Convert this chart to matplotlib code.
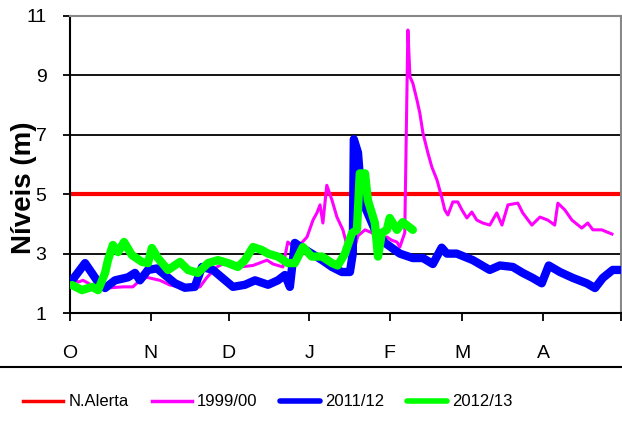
import matplotlib
matplotlib.use('Agg')
import matplotlib.pyplot as plt
from matplotlib.lines import Line2D

plt.rcParams['font.family'] = ['Liberation Sans', 'DejaVu Sans']

# eixo x em dias desde 1 de Outubro
months = ['O', 'N', 'D', 'J', 'F', 'M', 'A']
month_start = [0, 31, 61, 92, 123, 151, 182]
season_end = 212
alert_level = 5.0
y_ticks = [1, 3, 5, 7, 9, 11]

d_9900 = [0.8, 3.1, 5, 9.6, 15.4, 20.4, 24.2, 26.9, 29.6, 34.6, 38.5, 45, 50, 52.7, 56.5,
          60.4, 65.4, 70.4, 75.8, 78.1, 81.9, 83.8, 86.5, 88.5, 91.2, 93.5, 95, 96.2, 97.3,
          98.8, 100.8, 102.7, 105, 106.5, 108.5, 110.8, 113.5, 116.2, 118.5, 121.9, 123.8,
          125.8, 126.9, 128.8, 130, 130.8, 131.9, 133.5, 134.6, 135.8, 137.7, 139.2, 141.2,
          143, 144.2, 145.4, 147.3, 149.2, 150.8, 152.7, 154.6, 156.5, 158.8, 161.5, 164.2,
          166.2, 168.5, 172.3, 174.2, 177.7, 180.8, 183.8, 186.5, 187.7, 190.4, 193.1, 196.9,
          199.2, 201.2, 204.6, 206.5, 208.5]
v_9900 = [2.2, 2.04, 2.1, 1.88, 1.85, 1.88, 1.88, 2.1, 2.2, 2.1, 1.94, 1.84, 1.88, 2.2, 2.55,
          2.72, 2.55, 2.6, 2.78, 2.65, 2.55, 3.39, 3.2, 3.3, 3.56, 4.13, 4.37, 4.64, 4.03,
          5.3, 4.8, 4.23, 3.8, 3.3, 2.9, 3.6, 3.8, 3.7, 3.45, 3.56, 3.45,
          3.39, 3.22, 3.7, 10.53, 8.95, 8.74, 8.17, 7.73, 7.06, 6.39, 5.92, 5.48,
          4.9, 4.47, 4.3, 4.74, 4.74, 4.47, 4.2, 4.4, 4.13, 4.03, 3.96, 4.37,
          3.96, 4.64, 4.7, 4.37, 3.96, 4.23, 4.13, 3.96, 4.7, 4.47, 4.13, 3.86,
          4.03, 3.8, 3.8, 3.73, 3.66]

d_1112 = [0.8, 5.8, 10.8, 13.5, 17.3, 22.3, 25, 26.9, 30, 33.5, 36.5, 40.4, 44.2, 48, 50.8,
          55, 62.7, 67.3, 71.2, 76.2, 80, 82.7, 84.6, 86.5, 89.2, 93, 97, 100.8, 104.6,
          107.7, 108.8, 109.2, 110.8, 112.3, 113.5, 117.3, 121.2, 125, 126.9, 131.9, 135.8,
          139.6, 143, 145, 148.8, 155, 161.5, 165.4, 170.4, 174.2, 178, 181.5, 184.2, 188.5,
          193.5, 198.8, 202, 205, 208.8, 211.5]
v_1112 = [2.1, 2.68, 2.04, 1.84, 2.1, 2.2, 2.35, 2.1, 2.45, 2.5, 2.28, 2.0, 1.85, 1.88, 2.55,
          2.45, 1.88, 1.95, 2.1, 1.95, 2.1, 2.28, 1.88, 3.36, 3.2, 3.0, 2.78, 2.55, 2.38,
          2.38, 3.0, 6.85, 6.4, 4.7, 4.57, 3.8, 3.36, 3.12, 3.0, 2.85, 2.85,
          2.65, 3.2, 3.0, 3.0, 2.78, 2.45, 2.6, 2.55, 2.35, 2.18, 2.0, 2.6, 2.38,
          2.18, 2.0, 1.84, 2.18, 2.45, 2.45]

d_1213 = [0.8, 4.6, 8.5, 10.8, 13.5, 14.6, 16.5, 18.5, 20.8, 23.8, 27.7, 30, 31.5, 33.8, 37.7,
          42.3, 45.4, 49.2, 53.1, 56.9, 60.8, 64.6, 67.3, 70.4, 73.8, 76.2, 80, 83.8, 86.5,
          89.6, 93, 97, 100.8, 103, 105.8, 108.5, 110.4, 111.5, 113.5, 114.6, 117.3, 118.5,
          120, 121.9, 123, 125.8, 128, 131.9]
v_1213 = [1.94, 1.77, 1.88, 1.77, 2.35, 2.78, 3.29, 3.05, 3.39, 2.95, 2.72, 2.68, 3.19, 2.85, 2.45,
          2.72, 2.45, 2.35, 2.68, 2.78, 2.68, 2.55, 2.78, 3.22, 3.12, 3.0, 2.9, 2.68, 2.68,
          3.22, 2.9, 2.9, 2.68, 2.6, 3.0, 3.69, 3.8, 5.7, 5.7, 4.8, 4.03, 2.9,
          3.7, 3.8, 4.2, 3.8, 4.06, 3.8]

fig = plt.figure(figsize=(6.22, 4.21), dpi=100)
ax = fig.add_axes([70 / 622, 1 - 313 / 421, 551 / 622, 297 / 421])

ax.axhline(alert_level, color='#ff0000', lw=3, label='N.Alerta', zorder=2)
ax.plot(d_9900, v_9900, color='#ff00ff', lw=2.2, label='1999/00', zorder=3)
ax.plot(d_1112, v_1112, color='#0000ff', lw=6, label='2011/12', zorder=4,
        solid_joinstyle='round', solid_capstyle='round')
ax.plot(d_1213, v_1213, color='#00ff00', lw=6, label='2012/13', zorder=5,
        solid_joinstyle='round', solid_capstyle='round')

ax.set_xlim(0, season_end)
ax.set_ylim(1, 11)
ax.set_yticks(y_ticks)
ax.set_xticks(month_start + [season_end])
ax.set_xticklabels(months + [''])
ax.set_axisbelow(True)
ax.yaxis.grid(True, color='black', lw=1.3)

for s in ['left', 'bottom']:
    ax.spines[s].set_color('black')
    ax.spines[s].set_linewidth(1.5)
for s in ['top', 'right']:
    ax.spines[s].set_color('#888888')
    ax.spines[s].set_linewidth(1.5)

ax.tick_params(axis='y', direction='out', length=5, width=1.3, pad=12, labelsize=14)
ax.tick_params(axis='x', direction='out', length=6, width=1.3, pad=17, labelsize=14)
for lab in ax.get_xticklabels():
    lab.set_x(lab.get_position()[0])

fig.text(24 / 622, 1 - 188 / 421, 'Níveis (m)', rotation=90, ha='center', va='center',
         fontsize=20, fontweight='bold')

fig.add_artist(Line2D([0, 1], [1 - 367 / 421] * 2, transform=fig.transFigure,
                      color='black', lw=1.5))

leg = fig.legend(loc='center', bbox_to_anchor=(268 / 622, 1 - 402 / 421), ncol=4,
                 frameon=False, handlelength=2.4, handletextpad=0.3, columnspacing=1.38,
                 prop={'size': 12})
for line, w in zip(leg.get_lines(), [2.5, 2.5, 4, 4]):
    line.set_linewidth(w)

fig.savefig('out.png', dpi=100)
